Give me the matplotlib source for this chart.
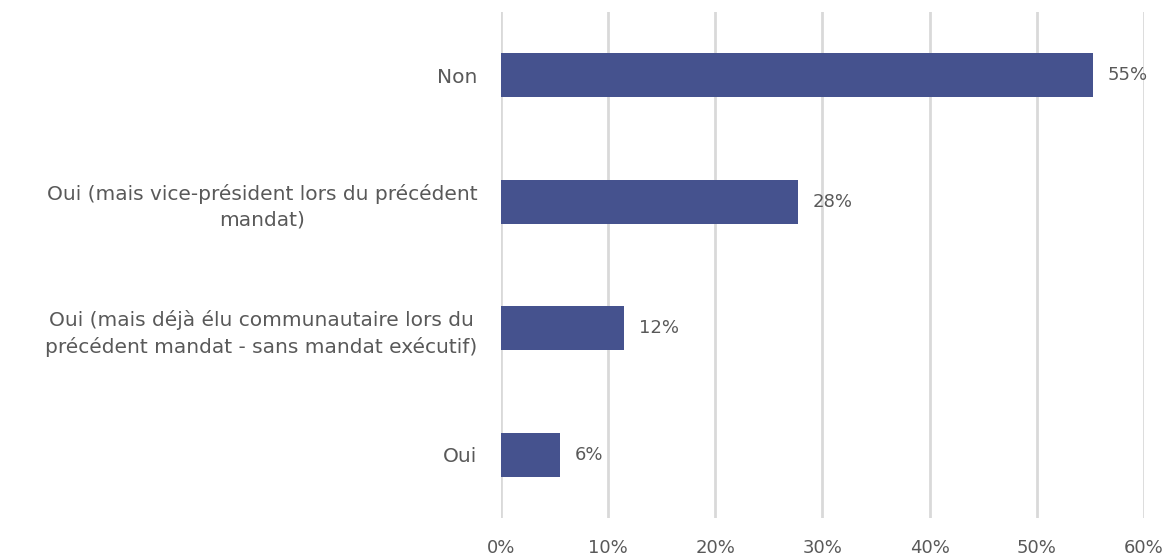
import matplotlib.pyplot as plt
from matplotlib.ticker import FuncFormatter

categories = [
    "Non",
    "Oui (mais vice-président lors du précédent\nmandat)",
    "Oui (mais déjà élu communautaire lors du\nprécédent mandat - sans mandat exécutif)",
    "Oui",
]
values = [55.2, 27.7, 11.5, 5.5]
labels = ["55%", "28%", "12%", "6%"]
xticks = [0, 10, 20, 30, 40, 50, 60]

plt.rcParams['font.family'] = ['DejaVu Sans']
grey = '#595959'

fig = plt.figure(figsize=(11.66, 5.59), dpi=100)
ax = fig.add_axes([0.4297, 0.073, 0.5514, 0.906])

pos = list(range(len(categories)))
ax.barh(pos, values, height=0.35, color='#45528E', zorder=3)
for p, v, lab in zip(pos, values, labels):
    ax.text(v + 1.4, p, lab, va='center', ha='left',
            fontsize=13, color=grey)

ax.set_xlim(0, 60)
ax.set_ylim(len(categories) - 0.5, -0.5)
ax.set_xticks(xticks)
ax.xaxis.set_major_formatter(FuncFormatter(lambda x, _: f"{x:.0f}%"))
ax.set_yticks(pos)
ax.set_yticklabels(categories, multialignment='center', fontsize=14.5,
                   linespacing=1.4)
ax.tick_params(axis='both', length=0, colors=grey)
ax.tick_params(axis='x', labelsize=13, pad=15)
ax.tick_params(axis='y', pad=17)
ax.grid(axis='x', color='#D9D9D9', linewidth=2, zorder=0)
for s in ax.spines.values():
    s.set_visible(False)

fig.savefig('out.png', dpi=100)
